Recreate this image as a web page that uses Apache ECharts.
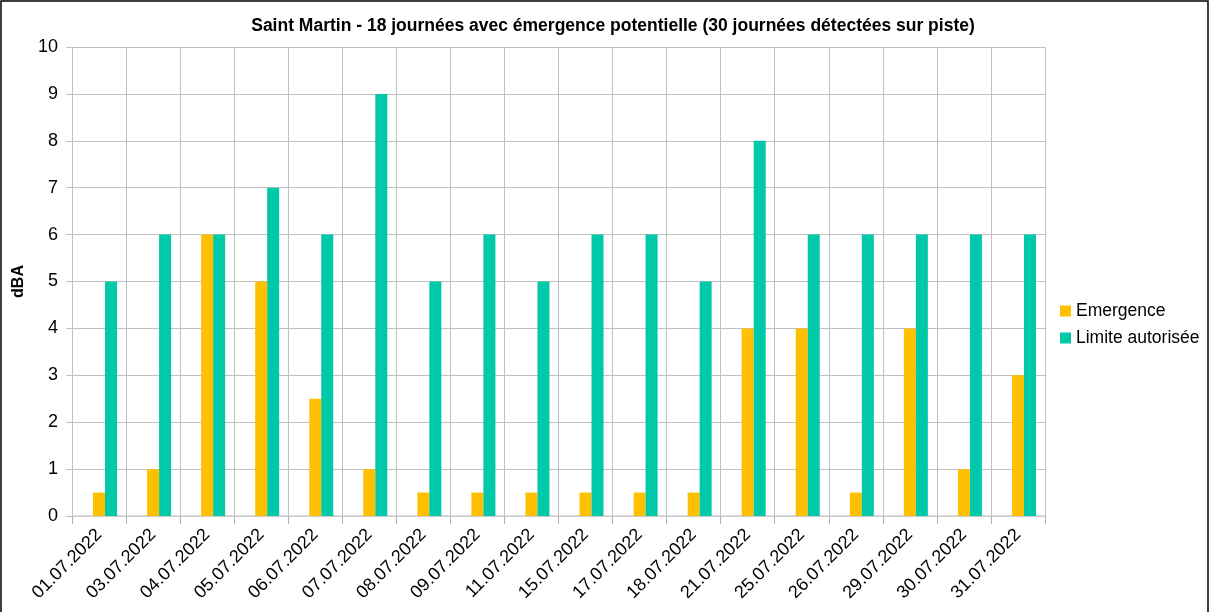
<!DOCTYPE html>
<html><head><meta charset="utf-8">
<script src="https://cdn.jsdelivr.net/npm/echarts@6/dist/echarts.min.js"></script>
<style>html,body{margin:0;padding:0;background:#fff}#c{width:1215px;height:612px}</style>
</head><body><div id="c"></div>
<script>
const categories = ['01.07.2022','03.07.2022','04.07.2022','05.07.2022','06.07.2022','07.07.2022','08.07.2022','09.07.2022','11.07.2022','15.07.2022','17.07.2022','18.07.2022','21.07.2022','25.07.2022','26.07.2022','29.07.2022','30.07.2022','31.07.2022'];
const emergence = [0.5,1,6,5,2.5,1,0.5,0.5,0.5,0.5,0.5,0.5,4,4,0.5,4,1,3];
const limite = [5,6,6,7,6,9,5,6,5,6,6,5,8,6,6,6,6,6];
const yTicks = [0,1,2,3,4,5,6,7,8,9,10];
const titleText = 'Saint Martin - 18 journées avec émergence potentielle (30 journées détectées sur piste)';
const FONT = 'Liberation Sans';
const chart = echarts.init(document.getElementById('c'));
chart.setOption({
  animation:false,
  textStyle:{fontFamily:FONT},
  title:{text:titleText,left:608,textAlign:'center',top:12,textStyle:{fontFamily:FONT,fontSize:17.5,fontWeight:'bold',color:'#000'}},
  legend:{orient:'vertical',left:1055,top:297,itemWidth:11,itemHeight:11,itemGap:9,icon:'rect',
    textStyle:{fontFamily:FONT,fontSize:17.5,color:'#000'},data:['Emergence','Limite autorisée']},
  grid:[{left:72,right:170,top:47,bottom:96},{left:78,right:164,top:47,bottom:96}],
  graphic:[{type:'rect',shape:{x:1,y:1,width:1207,height:620},style:{fill:'none',stroke:'#000',lineWidth:1.5},silent:true}],
  xAxis:[{type:'category',gridIndex:0,data:categories,
    axisLine:{show:true,lineStyle:{color:'#d0d0d0',width:1.5}},
    axisTick:{show:true,length:8,lineStyle:{color:'#b0b0b0'}},
    splitLine:{show:true,lineStyle:{color:'#c0c0c0'}},
    axisLabel:{rotate:45,fontFamily:FONT,fontSize:18,color:'#000',margin:16}},
    {type:'category',gridIndex:1,data:categories,show:false}],
  yAxis:[{type:'value',gridIndex:0,min:yTicks[0],max:yTicks[yTicks.length-1],interval:1,name:'dBA',nameLocation:'middle',nameGap:42,nameRotate:90,
    nameTextStyle:{fontFamily:FONT,fontSize:16,fontWeight:'bold',color:'#000'},
    axisLine:{show:false},axisTick:{show:true,length:6,lineStyle:{color:'#c0c0c0'}},
    splitLine:{lineStyle:{color:'#c0c0c0'}},
    axisLabel:{fontFamily:FONT,fontSize:18,color:'#000',margin:14}},
    {type:'value',gridIndex:1,min:yTicks[0],max:yTicks[yTicks.length-1],show:false}],
  series:[
    {name:'Emergence',type:'bar',xAxisIndex:1,yAxisIndex:1,data:emergence,barWidth:12,barGap:'0%',itemStyle:{color:'#FFC000'}},
    {name:'Limite autorisée',type:'bar',xAxisIndex:1,yAxisIndex:1,data:limite,barWidth:12,barGap:'0%',itemStyle:{color:'#00C9A9'}}
  ]
});
</script></body></html>
